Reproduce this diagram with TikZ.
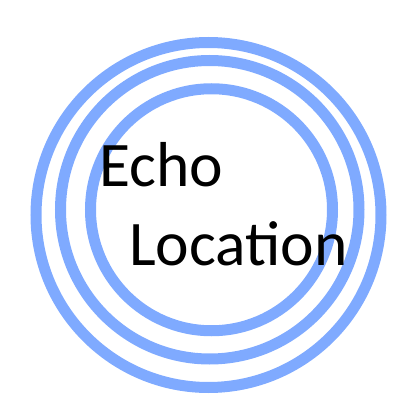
\documentclass[tikz,border=0pt]{standalone}
\usepackage{fontspec}
\setmainfont{Carlito}
\usepackage{tikz}
\usetikzlibrary{positioning}
\definecolor{ringblue}{RGB}{127,170,255}
\tikzset{Ring/.style={draw=ringblue, line width=11pt},
         Word/.style={inner sep=0pt, anchor=base west, font=\fontsize{63.5}{72}\selectfont}}

\begin{document}
\begin{tikzpicture}[x=1pt,y=1pt]
        \useasboundingbox (0,0) rectangle (400,400);
        \draw[Ring] (208.5,185) circle (172.5);
        \draw[Ring] (209.75,190.25) circle (149.25);
        \draw[Ring] (211.5,190.25) circle (121);
        \node[Word] (echo) at (99,213) {Echo};
        \node[Word] (location) at (129,135) {Location};
    \end{tikzpicture}
\end{document}
